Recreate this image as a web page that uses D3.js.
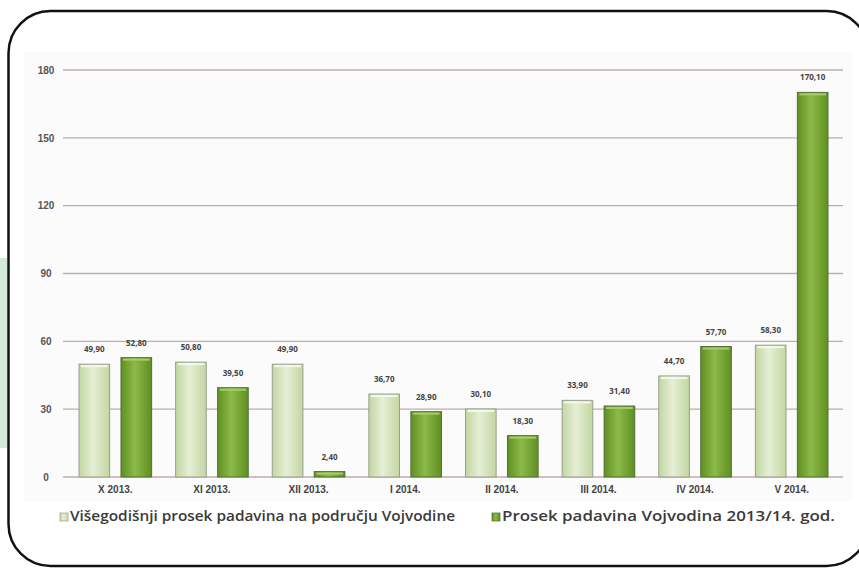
<!DOCTYPE html>
<meta charset="utf-8">
<script src="https://d3js.org/d3.v7.min.js"></script>
<style>
  body { margin: 0; background: #fff; }
  svg { display: block; font-family: "Open Sans", "DejaVu Sans", sans-serif; }
</style>
<body>
<svg width="859" height="569"></svg>
<script>
// chart data
var months = ["X 2013.", "XI 2013.", "XII 2013.", "I 2014.", "II 2014.", "III 2014.", "IV 2014.", "V 2014."];
var seriesNames = ["Višegodišnji prosek padavina na području Vojvodine", "Prosek padavina Vojvodina 2013/14. god."];
var longTerm = [49.90, 50.80, 49.90, 36.70, 30.10, 33.90, 44.70, 58.30];
var season = [52.80, 39.50, 2.40, 28.90, 18.30, 31.40, 57.70, 170.10];
var yTicks = [0, 30, 60, 90, 120, 150, 180];

var svg = d3.select("svg");
var fmt = function(v) { return d3.format(".2f")(v).replace(".", ","); };

var rows = months.map(function(m, i) {
    return { month: m, vals: [{ s: 0, v: longTerm[i] }, { s: 1, v: season[i] }] };
});

// gradients for the bars
var defs = svg.append("defs");
function grad(id, edge, mid) {
    var g = defs.append("linearGradient").attr("id", id)
        .attr("x1", "0%").attr("x2", "100%").attr("y1", "0%").attr("y2", "0%");
    g.append("stop").attr("offset", "0%").attr("stop-color", edge);
    g.append("stop").attr("offset", "45%").attr("stop-color", mid);
    g.append("stop").attr("offset", "100%").attr("stop-color", edge);
}
grad("gLight", "#c2d6a0", "#e6efd6");
grad("gDark", "#5f8f22", "#8dba48");

// left green strip and outer frame
svg.append("rect").attr("x", 0).attr("y", 258).attr("width", 7).attr("height", 190)
    .attr("fill", "#d3e9da");
svg.append("rect").attr("x", 24).attr("y", 52).attr("width", 828).attr("height", 450)
    .attr("fill", "#fbfbfb");
svg.append("rect").attr("x", 8.5).attr("y", 11).attr("width", 860).attr("height", 555)
    .attr("rx", 42).attr("fill", "none").attr("stroke", "#111").attr("stroke-width", 2.5);

var x0 = d3.scaleBand().domain(months).range([67, 840]);
var x1 = d3.scaleBand().domain([0, 1]).range([12, x0.bandwidth() - 12]).paddingInner(0.27);
var y = d3.scaleLinear().domain([0, 180]).range([477, 70]);

// gridlines + y labels
svg.append("g").selectAll("line").data(yTicks).enter().append("line")
    .attr("x1", 63).attr("x2", 843)
    .attr("y1", function(d) { return y(d); }).attr("y2", function(d) { return y(d); })
    .attr("stroke", "#bcaea8").attr("stroke-width", 1.3);

var yAxis = svg.append("g").attr("transform", "translate(52,0)")
    .call(d3.axisLeft(y).tickValues(yTicks).tickSize(0).tickPadding(0));
yAxis.select(".domain").remove();
yAxis.selectAll("text").attr("fill", "#555").style("font-size", "10px")
    .style("font-weight", "700").attr("text-anchor", "middle").attr("dx", "-6");

// bars
var groups = svg.append("g").selectAll("g").data(rows).enter().append("g")
    .attr("transform", function(d) { return "translate(" + x0(d.month) + ",0)"; });

groups.selectAll("rect").data(function(d) { return d.vals; }).enter().append("rect")
    .attr("x", function(d) { return x1(d.s); })
    .attr("width", x1.bandwidth())
    .attr("y", function(d) { return y(d.v); })
    .attr("height", function(d) { return y(0) - y(d.v); })
    .attr("fill", function(d) { return d.s === 0 ? "url(#gLight)" : "url(#gDark)"; })
    .attr("stroke", function(d) { return d.s === 0 ? "#9a9f8c" : "#56703a"; })
    .attr("stroke-width", 1);

// top highlight on each bar
groups.selectAll("line.hl").data(function(d) { return d.vals; }).enter().append("line")
    .attr("class", "hl")
    .attr("x1", function(d) { return x1(d.s) + 2; })
    .attr("x2", function(d) { return x1(d.s) + x1.bandwidth() - 2; })
    .attr("y1", function(d) { return y(d.v) + 2; })
    .attr("y2", function(d) { return y(d.v) + 2; })
    .attr("stroke", function(d) { return d.s === 0 ? "#f4f8ea" : "#a8cc6a"; })
    .attr("stroke-width", 2);

// value labels
groups.selectAll("text").data(function(d) { return d.vals; }).enter().append("text")
    .attr("x", function(d) { return x1(d.s) + x1.bandwidth() / 2; })
    .attr("y", function(d) { return y(d.v) - 12; })
    .attr("text-anchor", "middle")
    .style("font-size", "8px").style("font-weight", "700").attr("fill", "#444")
    .text(function(d) { return fmt(d.v); });

// x labels
var xAxis = svg.append("g").attr("transform", "translate(0,486)")
    .call(d3.axisBottom(x0).tickSize(0).tickPadding(0));
xAxis.select(".domain").remove();
xAxis.selectAll("text").attr("fill", "#444").style("font-size", "10px").style("font-weight", "700");

// legend
var legX = [60, 492];
var legW = [385, 333];
var leg = svg.append("g").selectAll("g").data(seriesNames).enter().append("g")
    .attr("transform", function(d, i) { return "translate(" + legX[i] + ",521)"; });
leg.append("rect").attr("x", 0).attr("y", -8).attr("width", 8).attr("height", 8)
    .attr("fill", function(d, i) { return i === 0 ? "url(#gLight)" : "url(#gDark)"; })
    .attr("stroke", function(d, i) { return i === 0 ? "#a4ab90" : "#5b7a3a"; })
    .attr("stroke-width", 0.8);
leg.append("text").attr("x", 10).attr("y", 0)
    .attr("textLength", function(d, i) { return legW[i]; })
    .attr("lengthAdjust", "spacingAndGlyphs")
    .style("font-size", "15px").style("font-weight", "600").attr("fill", "#3a3a3a")
    .text(function(d) { return d; });
</script>
</body>
